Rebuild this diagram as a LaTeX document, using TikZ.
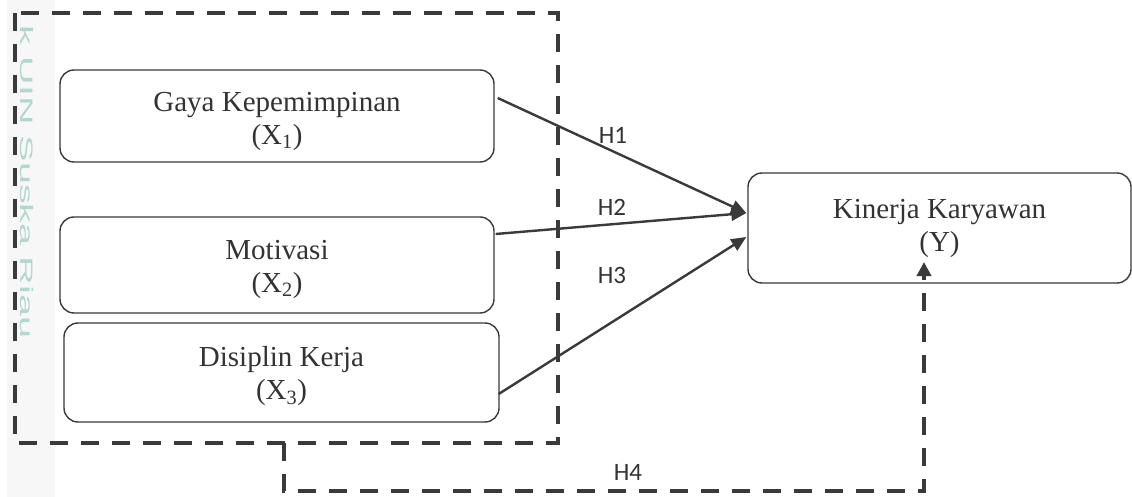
\documentclass[tikz,border=0pt]{standalone}
\usepackage{fontspec}
\setmainfont{Liberation Serif}
\newfontfamily\labelfont{Carlito}
\newfontfamily\wmfont{Liberation Sans}
\usetikzlibrary{arrows.meta}
\definecolor{ink}{HTML}{3A3A3A}
\definecolor{txt}{HTML}{333333}
\definecolor{wmteal}{HTML}{B3D6CE}
\definecolor{band}{HTML}{F7F7F7}
% two centred lines, drawn a little lower than the box centre
\newcommand{\twolines}[3]{\raisebox{-#1}[\height][\depth]{\begin{tabular}{@{}c@{}}#2\\#3\end{tabular}}}
\tikzset{
  varbox/.style={draw=ink, line width=1.4pt, rounded corners=14pt, inner sep=0pt,
    align=center, text=txt, font=\fontsize{29}{33}\selectfont},
  path arrow/.style={draw=ink, line width=2.4pt, -{Triangle[length=15pt,width=13pt]}},
  hyp/.style={text=txt, font=\labelfont\fontsize{25}{28}\selectfont, inner sep=0pt},
  groupline/.style={draw=ink, line width=3.6pt, dash pattern=on 18pt off 13pt},
}
\begin{document}
\begin{tikzpicture}[x=1pt, y=-1pt]
  \useasboundingbox (0,0) rectangle (1132,497);
  \fill[white] (0,0) rectangle (1132,497);
  % margin band and vertical mark on the left edge
  \fill[band] (7,0) rectangle (55,497);
  \node[rotate=-90, text=wmteal, inner sep=0pt, anchor=center] (mark) at (27,182)
    {\wmfont\fontsize{18}{20}\selectfont\scalebox{2.2}[1]{k UIN Suska Riau}};

  % grouping frame around the three independent variables
  \draw[groupline] (15,13) rectangle (558,443);

  % variables
  \node[varbox, minimum width=434pt, minimum height=92pt] (gaya) at (277,116)
    {\twolines{5pt}{Gaya Kepemimpinan}{(X\textsubscript{1})}};
  \node[varbox, minimum width=434pt, minimum height=96pt] (mot) at (277,265)
    {\twolines{4pt}{Motivasi}{(X\textsubscript{2})}};
  \node[varbox, minimum width=435pt, minimum height=99pt] (dis) at (281.5,372.5)
    {\twolines{4pt}{Disiplin Kerja}{(X\textsubscript{3})}};
  \node[varbox, minimum width=383pt, minimum height=110pt] (kin) at (939.5,228)
    {\twolines{0pt}{Kinerja Karyawan}{(Y)}};

  % partial effects
  \draw[path arrow] ([shift={(3pt,18pt)}]gaya.east) -- ([shift={(-1pt,15pt)}]kin.west);
  \draw[path arrow] ([shift={(1pt,31pt)}]mot.east) -- ([shift={(-1pt,15pt)}]kin.west);
  \draw[path arrow] ([shift={(-1pt,-21.5pt)}]dis.east) -- ([shift={(-1pt,-9pt)}]kin.west);

  % simultaneous effect
  \coordinate (h4s) at (284,443);
  \coordinate (h4a) at (284,491);
  \coordinate (h4b) at (924,491);
  \coordinate (h4e) at (924,262);
  \draw[groupline, -{Triangle[length=14pt,width=14pt]}] (h4s) -- (h4a) -- (h4b) -- (h4e);

  % hypothesis labels
  \node[hyp] (h1) at (613,135) {H1};
  \node[hyp] (h2) at (612,207) {H2};
  \node[hyp] (h3) at (612,275) {H3};
  \node[hyp] (h4) at (628,472) {H4};
\end{tikzpicture}
\end{document}
